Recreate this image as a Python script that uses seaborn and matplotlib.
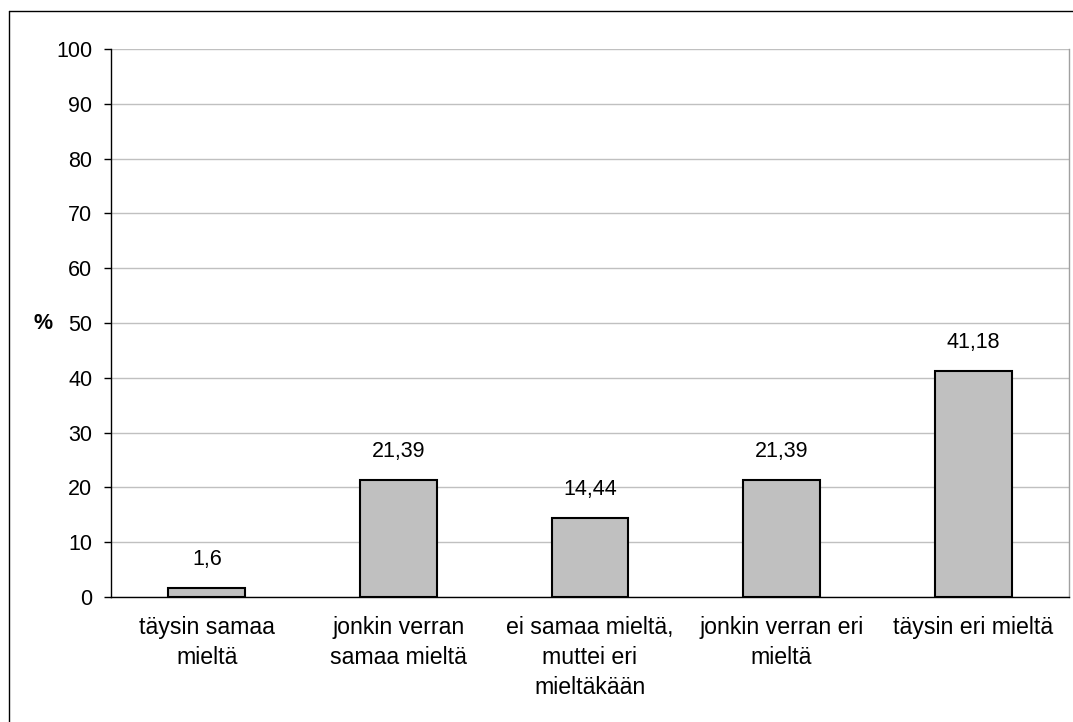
import matplotlib
matplotlib.use("Agg")
import matplotlib.pyplot as plt
import seaborn as sns
import numpy as np
import pandas as pd
from matplotlib.lines import Line2D

categories = [
    "täysin samaa\nmieltä",
    "jonkin verran\nsamaa mieltä",
    "ei samaa mieltä,\nmuttei eri\nmieltäkään",
    "jonkin verran eri\nmieltä",
    "täysin eri mieltä",
]
values = [1.6, 21.39, 14.44, 21.39, 41.18]
value_labels = ["1,6", "21,39", "14,44", "21,39", "41,18"]
y_ticks = [0, 10, 20, 30, 40, 50, 60, 70, 80, 90, 100]

sns.set_style("white")
plt.rcParams["font.family"] = ["Liberation Sans", "DejaVu Sans"]
plt.rcParams["text.color"] = "black"
plt.rcParams["xtick.color"] = "black"
plt.rcParams["ytick.color"] = "black"
plt.rcParams["axes.labelcolor"] = "black"

FS = 15.5
FS_CAT = 16.7
df = pd.DataFrame({"cat": categories, "val": values})

fig = plt.figure(figsize=(10.73, 7.22), dpi=100)
ax = fig.add_axes([0.1034, 0.1731, 0.8929, 0.7590])

sns.barplot(data=df, x="cat", y="val", color="#C0C0C0", width=0.4,
            edgecolor="black", linewidth=1.5, saturation=1, ax=ax, zorder=3)

ax.set_ylim(0, 100)
ax.set_xlim(-0.5, len(categories) - 0.5)
ax.set_yticks(y_ticks)
ax.set_yticklabels([str(t) for t in y_ticks], fontsize=FS)
ax.yaxis.grid(True, color="#C0C0C0", linewidth=1)
ax.set_axisbelow(True)

ax.set_xticks(range(len(categories)))
ax.set_xticklabels(categories, fontsize=FS_CAT, linespacing=1.38, va="top")
ax.tick_params(axis="x", which="major", length=0, pad=14)
ax.set_xticks(np.arange(-0.5, len(categories)), minor=True)
ax.tick_params(axis="x", which="minor", length=6, width=1, color="black", direction="out")
ax.tick_params(axis="y", length=5, width=1, color="black", direction="out", pad=8.5, left=True)

for i, (v, lab) in enumerate(zip(values, value_labels)):
    ax.text(i, v + 3.3, lab, ha="center", va="bottom", fontsize=FS)

ax.set_xlabel("")
ax.set_ylabel("%", fontsize=FS, fontweight="bold", rotation=0, ha="center", va="center")
ax.yaxis.set_label_coords(-0.071, 0.5)

for s in ["left", "bottom"]:
    ax.spines[s].set_color("black")
    ax.spines[s].set_linewidth(1)
ax.spines["top"].set_visible(False)
ax.spines["right"].set_color("#A0A0A0")
ax.spines["right"].set_linewidth(1)

# outer chart frame (left and top edges)
fx, fy = 9 / 1073, 1 - 11 / 722
fig.add_artist(Line2D([fx, fx], [0, fy], transform=fig.transFigure, color="black", linewidth=1))
fig.add_artist(Line2D([fx, 1], [fy, fy], transform=fig.transFigure, color="black", linewidth=1))

fig.savefig("out.png", dpi=100)
